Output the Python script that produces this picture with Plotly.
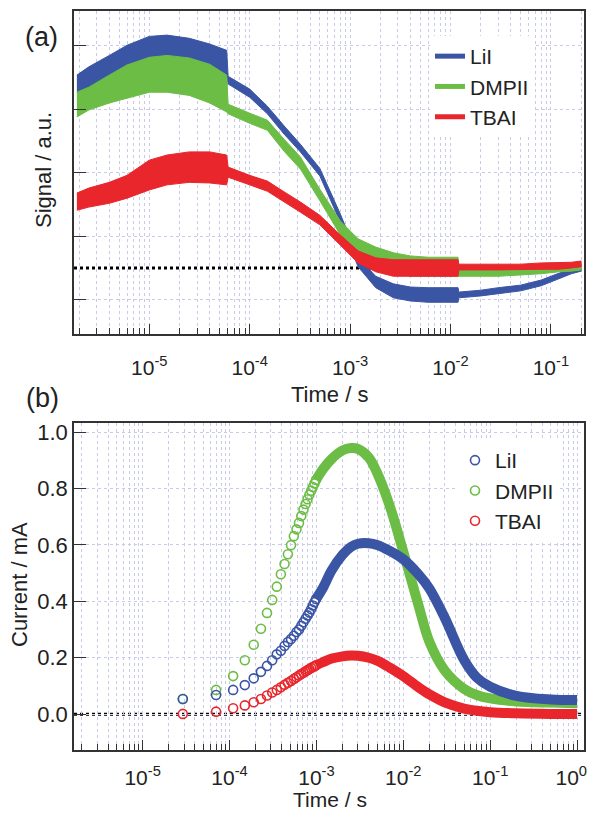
import plotly.graph_objects as go

# ---- panel (a): transient signal, noisy bands read as lower / upper edges ----
T_A = [1.9e-6, 2.5e-6, 4e-6, 6e-6, 1e-5, 1.5e-5, 2.5e-5, 4e-5, 5.9e-5, 6.1e-5,
       1e-4, 1.5e-4, 2.2e-4, 3.2e-4, 5e-4, 8e-4, 1.2e-3, 1.8e-3, 2.7e-3, 4e-3,
       6e-3, 8.5e-3, 1.19e-2, 1.21e-2, 2e-2, 3e-2, 5e-2, 8e-2, 1.2e-1, 1.6e-1, 2e-1]

LII_HI = [3.04, 3.17, 3.35, 3.51, 3.65, 3.67, 3.62, 3.53, 3.43, 3.02, 2.82, 2.55, 2.24, 1.95, 1.57, 0.85,
          0.17, -0.13, -0.25, -0.30, -0.31, -0.31, -0.31, -0.38, -0.35, -0.31, -0.27, -0.19, -0.08, 0.00, 0.05]
LII_LO = [2.76, 2.83, 3.01, 3.15, 3.24, 3.28, 3.21, 3.15, 3.02, 2.90, 2.69, 2.43, 2.11, 1.83, 1.45, 0.72,
          0.02, -0.31, -0.47, -0.52, -0.54, -0.54, -0.54, -0.47, -0.44, -0.41, -0.36, -0.28, -0.17, -0.09, -0.05]

DMPII_HI = [2.77, 2.85, 3.04, 3.20, 3.32, 3.35, 3.31, 3.21, 3.04, 2.58, 2.44, 2.33, 2.03, 1.75, 1.24, 0.74,
            0.46, 0.33, 0.24, 0.19, 0.17, 0.17, 0.17, -0.03, -0.03, -0.03, -0.02, 0.00, 0.03, 0.05, 0.06]
DMPII_LO = [2.38, 2.49, 2.60, 2.68, 2.77, 2.77, 2.72, 2.60, 2.46, 2.43, 2.28, 2.17, 1.84, 1.56, 1.06, 0.52,
            0.20, 0.02, -0.08, -0.13, -0.14, -0.14, -0.14, -0.13, -0.13, -0.13, -0.11, -0.09, -0.06, -0.05, -0.03]

TBAI_HI = [1.18, 1.26, 1.35, 1.46, 1.70, 1.78, 1.83, 1.83, 1.78, 1.59, 1.46, 1.37, 1.20, 1.04, 0.83, 0.52,
           0.27, 0.16, 0.13, 0.13, 0.13, 0.13, 0.13, 0.06, 0.06, 0.06, 0.06, 0.08, 0.08, 0.09, 0.11]
TBAI_LO = [0.91, 0.96, 1.02, 1.10, 1.23, 1.31, 1.35, 1.34, 1.31, 1.43, 1.31, 1.21, 1.04, 0.88, 0.68, 0.36,
           0.08, -0.06, -0.13, -0.13, -0.13, -0.13, -0.13, -0.03, -0.03, -0.03, -0.03, -0.02, -0.02, 0.00, 0.02]

# ---- panel (b): current, separate markers at early times ----
T_B_MARK = [2.9e-5, 7.0e-5, 1.1e-4, 1.5e-4, 1.9e-4, 2.3e-4, 2.7e-4, 3.1e-4, 3.5e-4, 3.9e-4,
            4.3e-4, 4.7e-4, 5.1e-4, 5.5e-4, 5.9e-4, 6.3e-4, 6.7e-4, 7.1e-4, 7.5e-4, 7.9e-4,
            8.3e-4, 8.7e-4, 9.1e-4, 9.5e-4, 9.9e-4]
LII_MARK = [0.054, 0.068, 0.086, 0.103, 0.127, 0.150, 0.171, 0.191, 0.212, 0.225,
            0.242, 0.256, 0.266, 0.278, 0.291, 0.300, 0.313, 0.326, 0.338, 0.350,
            0.360, 0.372, 0.385, 0.397, 0.408]
DMPII_MARK = [0.054, 0.086, 0.135, 0.191, 0.246, 0.303, 0.359, 0.405, 0.452, 0.496,
              0.532, 0.567, 0.599, 0.631, 0.655, 0.678, 0.702, 0.725, 0.745, 0.762,
              0.778, 0.792, 0.805, 0.818, 0.830]
TBAI_MARK = [0.001, 0.009, 0.021, 0.031, 0.042, 0.054, 0.066, 0.077, 0.086, 0.095,
             0.104, 0.111, 0.118, 0.125, 0.131, 0.137, 0.142, 0.147, 0.152, 0.156,
             0.160, 0.164, 0.167, 0.170, 0.173]

# ---- panel (b): later times, markers overlap into a solid band ----
T_B_LINE = [9.9e-4, 1.2e-3, 1.5e-3, 2e-3, 2.5e-3, 3e-3, 4e-3, 5e-3, 7e-3, 1e-2,
            1.5e-2, 2e-2, 3e-2, 5e-2, 7e-2, 0.1, 0.2, 0.5, 1.0]
LII_LINE = [0.408, 0.450, 0.510, 0.565, 0.593, 0.604, 0.606, 0.600, 0.579, 0.549,
            0.495, 0.445, 0.342, 0.193, 0.130, 0.097, 0.065, 0.052, 0.050]
DMPII_LINE = [0.830, 0.870, 0.905, 0.935, 0.943, 0.940, 0.910, 0.855, 0.737, 0.576,
              0.385, 0.256, 0.155, 0.090, 0.068, 0.056, 0.045, 0.041, 0.039]
TBAI_LINE = [0.173, 0.185, 0.197, 0.205, 0.208, 0.207, 0.200, 0.190, 0.165, 0.135,
             0.095, 0.070, 0.042, 0.020, 0.012, 0.007, 0.003, 0.001, 0.001]

COLORS = {"LiI": "#3b55a5", "DMPII": "#6cbd45", "TBAI": "#e8262c"}
FONT = "Arial, Liberation Sans, sans-serif"
GRID = "#c9c9ea"
FRAME = "#333333"
OFF = 8  # page body margin around the figure
W, H = 595 - 2 * OFF, 820 - 2 * OFF


def px(x):
    # page pixel -> paper fraction
    return (x - OFF) / W


def py(y):
    return 1 - (y - OFF) / H


fig = go.Figure()

# panel (a) bands, drawn blue, green, red
for name, hi, lo in [("LiI", LII_HI, LII_LO), ("DMPII", DMPII_HI, DMPII_LO), ("TBAI", TBAI_HI, TBAI_LO)]:
    fig.add_trace(go.Scatter(
        x=T_A + T_A[::-1], y=hi + lo[::-1], mode="lines", fill="toself",
        fillcolor=COLORS[name], line=dict(color=COLORS[name], width=1),
        showlegend=False, hoverinfo="skip", xaxis="x", yaxis="y"))
for name in ["LiI", "DMPII", "TBAI"]:
    fig.add_trace(go.Scatter(
        x=[None], y=[None], mode="lines", name=name,
        line=dict(color=COLORS[name], width=5), legend="legend", xaxis="x", yaxis="y"))

# panel (b), drawn green, blue, red
rank = {"LiI": 1, "DMPII": 2, "TBAI": 3}
for name, ym, yl in [("DMPII", DMPII_MARK, DMPII_LINE), ("LiI", LII_MARK, LII_LINE), ("TBAI", TBAI_MARK, TBAI_LINE)]:
    fig.add_trace(go.Scatter(
        x=T_B_LINE, y=yl, mode="lines", line=dict(color=COLORS[name], width=10, shape="spline"),
        showlegend=False, hoverinfo="skip", xaxis="x2", yaxis="y2"))
    fig.add_trace(go.Scatter(
        x=T_B_MARK, y=ym, mode="markers", name=name, legend="legend2", legendrank=rank[name],
        marker=dict(symbol="circle-open", size=9, color=COLORS[name], line=dict(width=1.6)),
        xaxis="x2", yaxis="y2"))

minor_vals = [m * 10.0 ** e for e in range(-7, 1) for m in range(2, 10)]

xcommon = dict(
    type="log", showline=True, linecolor=FRAME, linewidth=1.5, mirror=True,
    ticks="inside", ticklen=10, tickwidth=1.3, tickcolor=FRAME, ticklabelstandoff=14,
    ticklabeloverflow="allow",
    showgrid=True, gridcolor=GRID, griddash="dot", gridwidth=1, zeroline=False,
    minor=dict(tickmode="array", tickvals=minor_vals, ticks="inside", ticklen=6,
               tickwidth=1.2, tickcolor=FRAME, showgrid=True, gridcolor=GRID, griddash="dot"),
    tickfont=dict(family=FONT, size=21, color="#222"),
    domain=[px(74), px(584)])
ycommon = dict(
    showline=True, linecolor=FRAME, linewidth=1.5, mirror=True,
    ticks="inside", ticklen=12, tickwidth=1.3, tickcolor=FRAME,
    showgrid=True, gridcolor=GRID, griddash="dot", gridwidth=1, zeroline=False,
    tickfont=dict(family=FONT, size=22, color="#222"))

ann = dict(xref="paper", yref="paper", showarrow=False, xanchor="center", yanchor="middle")

fig.update_layout(
    width=W, height=H, margin=dict(l=0, r=0, t=0, b=0, autoexpand=False),
    plot_bgcolor="white", paper_bgcolor="white",
    font=dict(family=FONT, size=22, color="#222"),
    xaxis=dict(xcommon, anchor="y", range=[-5.75, -0.67],
               tickvals=[1e-5, 1e-4, 1e-3, 1e-2, 1e-1],
               ticktext=["10<sup>-5</sup>", "10<sup>-4</sup>", "10<sup>-3</sup>",
                         "10<sup>-2</sup>", "10<sup>-1</sup>"]),
    yaxis=dict(ycommon, anchor="x", domain=[py(334), py(11)], range=[-1.04, 4.05],
               tickvals=[-0.5, 0.5, 1.5, 2.5, 3.5], showticklabels=False),
    xaxis2=dict(xcommon, anchor="y2", range=[-5.79, 0.08], ticklabelstandoff=8,
                tickvals=[1e-5, 1e-4, 1e-3, 1e-2, 1e-1, 1],
                ticktext=["10<sup>-5</sup>", "10<sup>-4</sup>", "10<sup>-3</sup>",
                          "10<sup>-2</sup>", "10<sup>-1</sup>",
                          "10<sup>0</sup>&nbsp;&nbsp;"]),
    yaxis2=dict(ycommon, anchor="x2", domain=[py(750), py(423)], range=[-0.127, 1.032],
                tickvals=[0, 0.2, 0.4, 0.6, 0.8, 1.0],
                ticktext=["0.0", "0.2", "0.4", "0.6", "0.8", "1.0"]),
    legend=dict(x=px(430), y=py(36), xanchor="left", yanchor="top", bgcolor="white",
                font=dict(family=FONT, size=21, color="#222"), tracegroupgap=0,
                itemwidth=30),
    legend2=dict(x=px(455), y=py(440), xanchor="left", yanchor="top", bgcolor="white",
                 font=dict(family=FONT, size=21, color="#222"), tracegroupgap=0,
                 itemwidth=30),
    shapes=[
        dict(type="line", xref="x domain", yref="y", x0=0, x1=1, y0=0, y1=0,
             line=dict(color="black", width=3, dash="dot"), layer="below"),
        dict(type="line", xref="x2 domain", yref="y2", x0=0, x1=1, y0=0, y1=0,
             line=dict(color="black", width=3, dash="dot"), layer="below"),
    ],
    annotations=[
        dict(ann, text="(a)", x=px(41), y=py(37), font=dict(size=27)),
        dict(ann, text="(b)", x=px(42), y=py(398), font=dict(size=27)),
        dict(ann, text="Signal / a.u.", x=px(43), y=py(170), textangle=-90),
        dict(ann, text="Time / s", x=px(329), y=py(394)),
        dict(ann, text="Current / mA", x=px(19), y=py(585), textangle=-90),
        dict(ann, text="Time / s", x=px(330), y=py(799), font=dict(size=21)),
    ],
)

fig.write_html("out.html")
